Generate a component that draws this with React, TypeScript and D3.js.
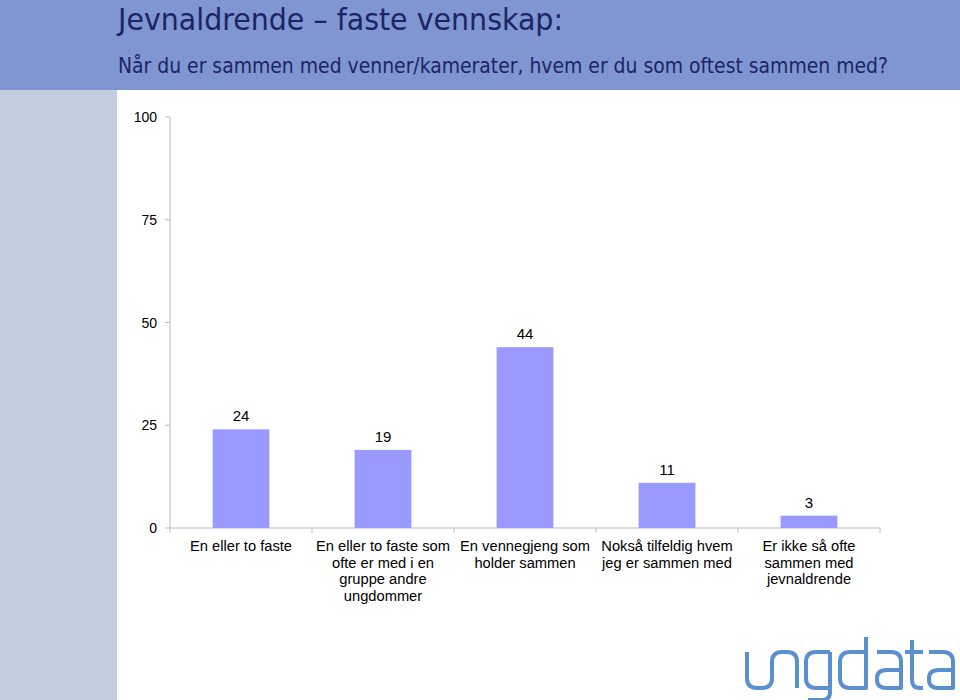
import React from "react";
import * as d3 from "d3";

const categories: string[][] = [
  ["En eller to faste"],
  ["En eller to faste som", "ofte er med i en", "gruppe andre", "ungdommer"],
  ["En vennegjeng som", "holder sammen"],
  ["Nokså tilfeldig hvem", "jeg er sammen med"],
  ["Er ikke så ofte", "sammen med", "jevnaldrende"],
];
const values: number[] = [24, 19, 44, 11, 3];
const yTicks: number[] = [0, 25, 50, 75, 100];
const title = "Jevnaldrende – faste vennskap:";
const subtitle = "Når du er sammen med venner/kamerater, hvem er du som oftest sammen med?";

const logoPaths: string[] = [
  "M747,652 V678 Q747,688 757,688 H762 Q772,688 772,678 V662 Q772,652 782,652 H787 Q797,652 797,662 V688",
  "M830,652 H816 Q806,652 806,662 V678 Q806,688 816,688 H830 M830,652 V692 Q830,700 822,700 H808",
  "M866,652 H850 Q840,652 840,662 V678 Q840,688 850,688 H866 V637",
  "M877,652 H891 Q901,652 901,662 V688 H887 Q877,688 877,680 V678 Q877,670 887,670 H901",
  "M912,640 V680 Q912,688 920,688 H923 M905,652 H923",
  "M929,652 H943 Q953,652 953,662 V688 H939 Q929,688 929,680 V678 Q929,670 939,670 H953",
];

export default function App() {
  const W = 960, H = 700;
  const x0 = 170, x1 = 880, yTop = 117, yBot = 528;
  const x = d3.scaleBand<number>().domain(d3.range(values.length)).range([x0, x1]).paddingInner(0).paddingOuter(0);
  const y = d3.scaleLinear().domain([0, 100]).range([yBot, yTop]);
  const bw = x.bandwidth() * 0.4;
  const font = "'Liberation Sans', Arial, sans-serif";
  const headFont = "'DejaVu Sans Condensed', 'DejaVu Sans', Verdana, sans-serif";
  return (
    <div style={{ position: "fixed", left: 0, top: 0 }}>
      <svg width={W} height={H} style={{ display: "block" }}>
        <rect x={0} y={0} width={W} height={H} fill="#ffffff" />
        <rect x={0} y={0} width={W} height={90} fill="#8096D0" />
        <rect x={0} y={90} width={117} height={H - 90} fill="#C3CDE0" />
        <text x={118} y={30} fontFamily={headFont} fontSize={31} fill="#1C2466" textLength={445} lengthAdjust="spacingAndGlyphs">{title}</text>
        <text x={118} y={73} fontFamily={headFont} fontSize={20.5} fill="#1C2466" textLength={770} lengthAdjust="spacingAndGlyphs">{subtitle}</text>
        {/* y axis */}
        <line x1={x0} x2={x0} y1={yTop} y2={yBot} stroke="#BBBBBB" strokeWidth={1} />
        {yTicks.map((t) => (
          <g key={t}>
            <line x1={x0 - 5} x2={x0} y1={y(t)} y2={y(t)} stroke="#BBBBBB" />
            <text x={157} y={y(t) + 5} textAnchor="end" fontFamily={font} fontSize={14} fill="#000">{t}</text>
          </g>
        ))}
        {/* x axis */}
        <line x1={x0} x2={x1} y1={yBot} y2={yBot} stroke="#BBBBBB" />
        {d3.range(values.length + 1).map((i) => {
          const xx = i < values.length ? (x(i) as number) : x1;
          return <line key={i} x1={xx} x2={xx} y1={yBot} y2={yBot + 5} stroke="#BBBBBB" />;
        })}
        {values.map((v, i) => {
          const cx = (x(i) as number) + x.bandwidth() / 2;
          return (
            <g key={i}>
              <rect x={cx - bw / 2} y={y(v)} width={bw} height={yBot - y(v)} fill="#9999FF" />
              <text x={cx} y={y(v) - 8} textAnchor="middle" fontFamily={font} fontSize={15} fill="#000">{v}</text>
              {categories[i].map((line, j) => (
                <text key={j} x={cx} y={551 + j * 16.7} textAnchor="middle" fontFamily={font} fontSize={14.7} fill="#000">{line}</text>
              ))}
            </g>
          );
        })}
        <g fill="none" stroke="#5A8FD0" strokeWidth={4} strokeLinejoin="round">
          {logoPaths.map((d, i) => <path key={i} d={d} />)}
        </g>
      </svg>
    </div>
  );
}
